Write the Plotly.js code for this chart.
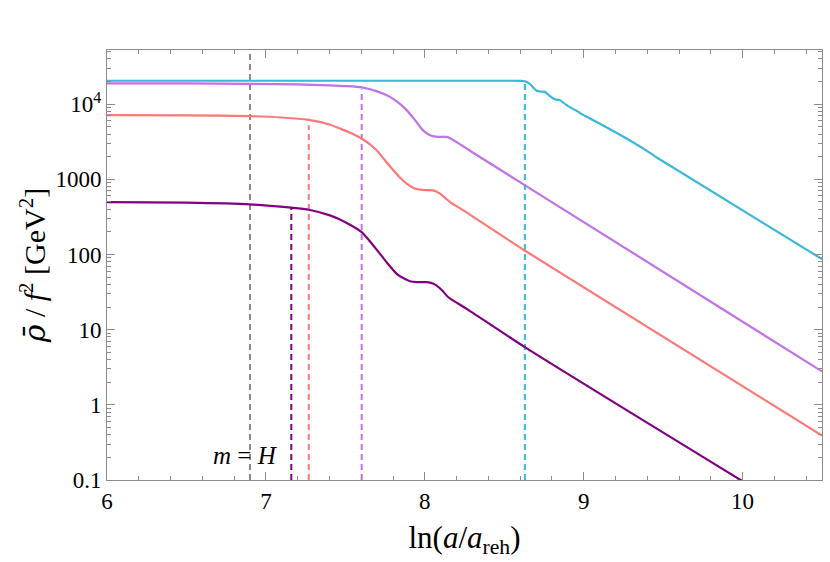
<!DOCTYPE html>
<html>
<head>
<meta charset="utf-8">
<script src="https://cdn.plot.ly/plotly-3.0.1.min.js"></script>
<style>html,body{margin:0;padding:0;background:#fff;}#chart{width:830px;height:562px;}</style>
</head>
<body>
<div id="chart"></div>
<script>
// ---- data ----
const cyanX = [6, 7, 8, 8.5, 8.6, 8.631, 8.662, 8.704, 8.73, 8.756, 8.78, 8.809, 8.83, 8.851, 8.893, 8.93, 8.966, 8.987, 9.04, 9.27, 9.42, 9.46, 10.5];
const cyanY = [20460, 20460, 20460, 20460, 20420, 20180, 18490, 15070, 14690, 14550, 13180, 11910, 11480, 11300, 9700, 8710, 7890, 7360, 6440, 3490, 2230, 1950, 86.7];

const lavX = [6, 6.5, 6.9, 7.2, 7.4, 7.5, 7.603, 7.7, 7.781, 7.84, 7.886, 7.93, 7.97, 8.0, 8.033, 8.07, 8.11, 8.138, 8.16, 8.347, 8.631, 10.5];
const lavY = [18880, 18840, 18620, 18280, 17780, 17380, 16710, 14790, 12500, 10230, 8320, 6460, 5010, 4270, 3860, 3690, 3660, 3660, 3510, 1980, 832, 2.78];

const salX = [6, 6.5, 6.9, 7.1, 7.27, 7.4, 7.466, 7.53, 7.603, 7.697, 7.75, 7.802, 7.85, 7.886, 7.93, 7.97, 8.01, 8.054, 8.096, 8.13, 8.159, 8.243, 8.631, 10.5];
const salY = [7130, 7080, 6920, 6640, 6170, 5370, 4740, 4170, 3490, 2440, 1780, 1320, 1023, 877, 767, 728, 718, 713, 644, 562, 498, 386, 112, 0.389];

const dpX = [6, 6.5, 6.9, 7.16, 7.27, 7.403, 7.5, 7.603, 7.718, 7.77, 7.823, 7.87, 7.907, 7.95, 8.012, 8.05, 8.075, 8.11, 8.148, 8.264, 8.632, 10.05];
const dpY = [498, 490, 465, 419, 394, 331, 269, 198, 102, 74.1, 55.3, 47.9, 44.1, 42.9, 42.8, 41.2, 38.6, 33.1, 27.0, 18.9, 5.81, 0.083];

// vertical dashed markers
const markerX   = [6.9, 7.16, 7.27, 7.603, 8.63];
const markerTop = [60000, 419, 5250, 15700, 20400];
const markerBottom = 0.1;

const xTicks = [6, 7, 8, 9, 10];
const yTickVals = [0.1, 1, 10, 100, 1000, 10000];
const yTickText = ['0.1', '1', '10', '100', '1000', '10<sup>4</sup>'];

// ---- styles ----
const cCyan = 'rgb(58,184,216)';
const cLav = 'rgb(192,114,230)';
const cSal = 'rgb(255,120,120)';
const cDp = 'rgb(128,0,128)';
const cGray = 'rgb(100,100,100)';
const markerColors = [cGray, cDp, cSal, cLav, cCyan];
const markerWidths = [1.5, 2, 2, 2, 2];

const traces = [];
markerX.forEach((x, i) => {
  traces.push({
    x: [x, x], y: [markerBottom, markerTop[i]], mode: 'lines', type: 'scatter',
    line: {color: markerColors[i], width: markerWidths[i], dash: '6px,4px'},
    hoverinfo: 'skip', showlegend: false
  });
});
[[cyanX, cyanY, cCyan], [lavX, lavY, cLav], [salX, salY, cSal], [dpX, dpY, cDp]].forEach(([xs, ys, c]) => {
  traces.push({x: xs, y: ys, mode: 'lines', type: 'scatter',
    line: {color: c, width: 2.2, shape: 'spline', smoothing: 0.6}, showlegend: false});
});

const serif = "'Liberation Serif', 'DejaVu Serif', serif";
const axisCommon = {
  showline: true, linecolor: 'rgb(140,140,140)', linewidth: 1, mirror: 'ticks',
  ticks: 'inside', ticklen: 8, tickcolor: 'rgb(140,140,140)', tickwidth: 1,
  showgrid: false, zeroline: false,
  tickfont: {family: serif, size: 23, color: '#000'}
};

const layout = {
  width: 830, height: 562,
  margin: {l: 107, r: 8, t: 50, b: 82},
  paper_bgcolor: '#fff', plot_bgcolor: '#fff',
  font: {family: serif},
  xaxis: Object.assign({}, axisCommon, {
    range: [6, 10.5], tickvals: xTicks, ticktext: xTicks.map(String),
    minor: {dtick: 0.2, tick0: 6, ticks: 'inside', ticklen: 4, tickcolor: 'rgb(140,140,140)', showgrid: false},
    title: {text: 'ln(<i>a</i>/<i>a</i><sub>reh</sub>)', font: {family: serif, size: 31, color: '#000'}, standoff: 13}
  }),
  yaxis: Object.assign({}, axisCommon, {
    type: 'log', range: [-1, 4.72], tickvals: yTickVals, ticktext: yTickText,
    minor: {dtick: 'D1', ticks: 'inside', ticklen: 4, tickcolor: 'rgb(140,140,140)', showgrid: false},
    title: {text: "<i><span style=\"font-family:'DejaVu Serif'\">ρ̄</span></i> / <i>f</i><sup>2</sup> [GeV<sup>2</sup>]", font: {family: serif, size: 30, color: '#000'}, standoff: 0}
  }),
  annotations: [{
    x: 6.87, y: Math.log10(0.21), xref: 'x', yref: 'y', showarrow: false,
    text: '<i>m</i> = <i>H</i>', font: {family: serif, size: 25, color: '#000'}
  }]
};

Plotly.newPlot('chart', traces, layout, {staticPlot: true, displayModeBar: false});
</script>
</body>
</html>
